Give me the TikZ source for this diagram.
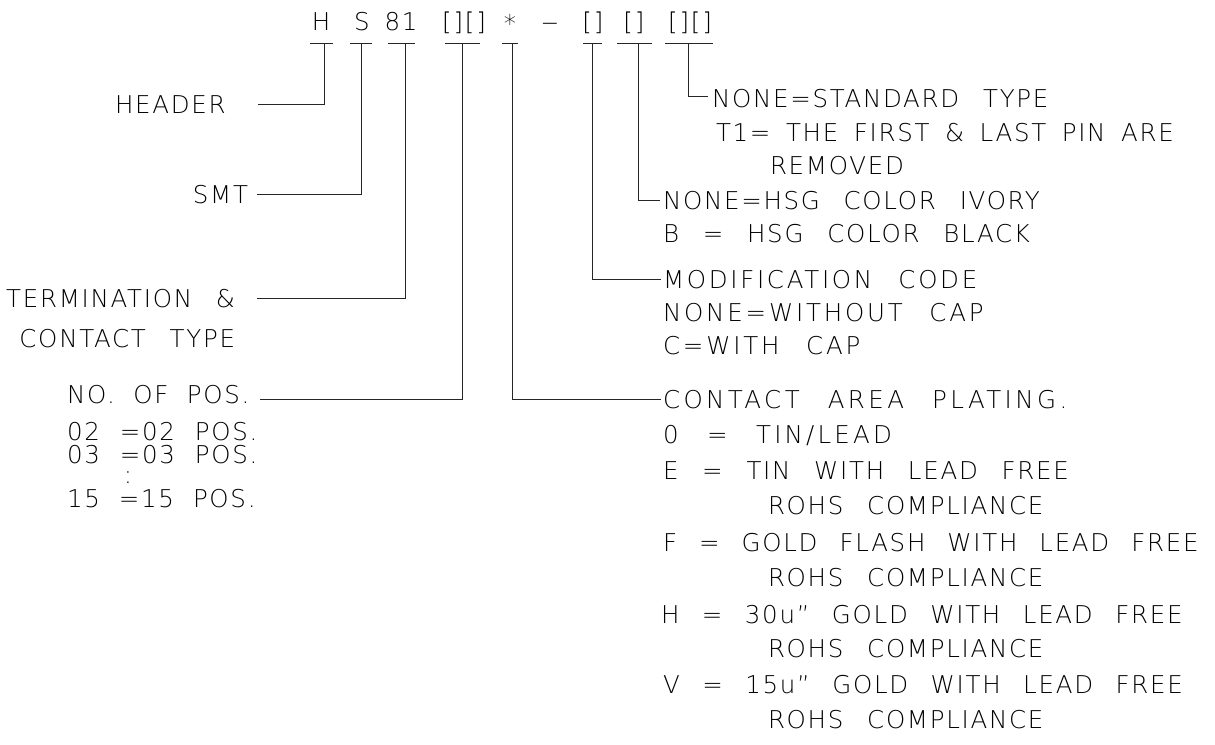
\documentclass[tikz,border=0pt]{standalone}
\usepackage{fontspec}
\IfFontExistsTF{DejaVu Sans ExtraLight}
  {\setmainfont{DejaVu Sans ExtraLight}[LetterSpace=7,WordSpace=2.5]}
  {\setmainfont{DejaVu Sans}[LetterSpace=7,WordSpace=2.5]}
\newcommand{\wider}[1]{\addfontfeatures{LetterSpace=#1}}
\begin{document}
\begin{tikzpicture}[x=1pt,y=-1pt,
  txt/.style={inner sep=0pt, outer sep=0pt, anchor=base west, font=\fontsize{24.5}{29}\selectfont},
  txtr/.style={txt, anchor=base east},
  txtc/.style={txt, anchor=base},
  ln/.style={line width=0.9pt, draw=black!85},
]
\useasboundingbox (0,0) rectangle (1215,744);

% ---- part number
\node[txtc] (cH)    at (321,30) {H};
\node[txtc] (cS)    at (362,30) {S};
\node[txtc] (c81)   at (401,30) {81};
\node[txtc] (cP)    at (464,30) {[\kern2pt][\kern2pt]};
\node[txtc] (cStar) at (510,32) {*};
\node[txtc] (cDash) at (550,30) {\scalebox{1.4}[1]{–}};
\node[txtc] (cM)    at (593,30) {[\kern2pt]};
\node[txtc] (cC)    at (634,30) {[\kern2pt]};
\node[txtc] (cT)    at (690,30) {[\kern2pt][\kern2pt]};

% ---- tick coordinates under each field
\coordinate (kH)    at (324,43);
\coordinate (kS)    at (361,43);
\coordinate (k81)   at (405,43);
\coordinate (kP)    at (462,43);
\coordinate (kStar) at (512,43);
\coordinate (kM)    at (592,43);
\coordinate (kC)    at (638,43);
\coordinate (kT)    at (688,43);

\draw[ln] ([xshift=-14pt]kH) -- ([xshift=9pt]kH);
\draw[ln] ([xshift=-11pt]kS) -- ([xshift=11pt]kS);
\draw[ln] ([xshift=-17pt]k81) -- ([xshift=10pt]k81);
\draw[ln] ([xshift=-17pt]kP) -- ([xshift=18pt]kP);
\draw[ln] ([xshift=-10pt]kStar) -- ([xshift=6pt]kStar);
\draw[ln] ([xshift=-9pt]kM) -- ([xshift=10pt]kM);
\draw[ln] ([xshift=-21pt]kC) -- ([xshift=14pt]kC);
\draw[ln] ([xshift=-23pt]kT) -- ([xshift=25pt]kT);

% ---- left descriptions
\node[txt]  (header) at (115,113) {HEADER};
\node[txtr] (smt)    at (248,203) {SMT};
\node[txtr] (term1)  at (235,307) {TERMINATION \&};
\node[txtr] (term2)  at (235,347) {CONTACT TYPE};
\node[txt]  (nopos)  at (67,403) {\spaceskip=18.5pt NO. OF POS.};
\node[txt]  (p02)    at (67,440) {\spaceskip=20pt 02 =02 POS.};
\node[txt]  (p03)    at (67,463) {\spaceskip=20pt 03 =03 POS.};
\node[txtc] (pdots)  at (128,483) {:};
\node[txt]  (p15)    at (67,507) {\spaceskip=19pt 15 =15 POS.};

\coordinate (eHeader) at (258,104);
\coordinate (eSmt)    at (257,194);
\coordinate (eTerm)   at (257,298);
\coordinate (eNopos)  at (260,399);

\draw[ln] (kH)  |- (eHeader);
\draw[ln] (kS)  |- (eSmt);
\draw[ln] (k81) |- (eTerm);
\draw[ln] (kP)  |- (eNopos);

% ---- right descriptions
\node[txt] (std)   at (712,107) {NONE=STANDARD TYPE};
\node[txt] (t1)    at (716,141) {\spaceskip=15.5pt T1= THE FIRST \& LAST PIN ARE};
\node[txt] (rem)   at (770,174) {REMOVED};
\node[txt] (ivory) at (663,209) {NONE=HSG COLOR IVORY};
\node[txt] (black) at (663,242) {B = HSG COLOR BLACK};
\node[txt] (modif) at (663,288) {\wider{11}MODIFICATION CODE};
\node[txt] (wcap)  at (663,321) {\wider{11.5}NONE=WITHOUT CAP};
\node[txt] (ccap)  at (663,354) {\wider{11.5}C=WITH CAP};
\node[txt] (plat)  at (663,408) {\wider{14}CONTACT AREA PLATING.};
\node[txt] (pO)    at (663,443) {\wider{13}\spaceskip=28.5pt 0 = TIN/LEAD};
\node[txt] (pE)    at (663,479) {E = TIN WITH LEAD FREE};
\node[txt] (r1)    at (768,514) {ROHS COMPLIANCE};
\node[txt] (pF)    at (663,551) {\spaceskip=22pt F = GOLD FLASH WITH LEAD FREE};
\node[txt] (r2)    at (768,586) {ROHS COMPLIANCE};
\node[txt] (pH)    at (661,623) {\spaceskip=22.5pt H = 30u” GOLD WITH LEAD FREE};
\node[txt] (r3)    at (768,657) {ROHS COMPLIANCE};
\node[txt] (pV)    at (663,693) {\spaceskip=22.5pt V = 15u” GOLD WITH LEAD FREE};
\node[txt] (r4)    at (768,728) {ROHS COMPLIANCE};

\coordinate (eStd)   at (708,96);
\coordinate (eIvory) at (660,200);
\coordinate (eModif) at (661,279);
\coordinate (ePlat)  at (661,399);

\draw[ln] (kT)    |- (eStd);
\draw[ln] (kC)    |- (eIvory);
\draw[ln] (kM)    |- (eModif);
\draw[ln] (kStar) |- (ePlat);
\end{tikzpicture}
\end{document}
